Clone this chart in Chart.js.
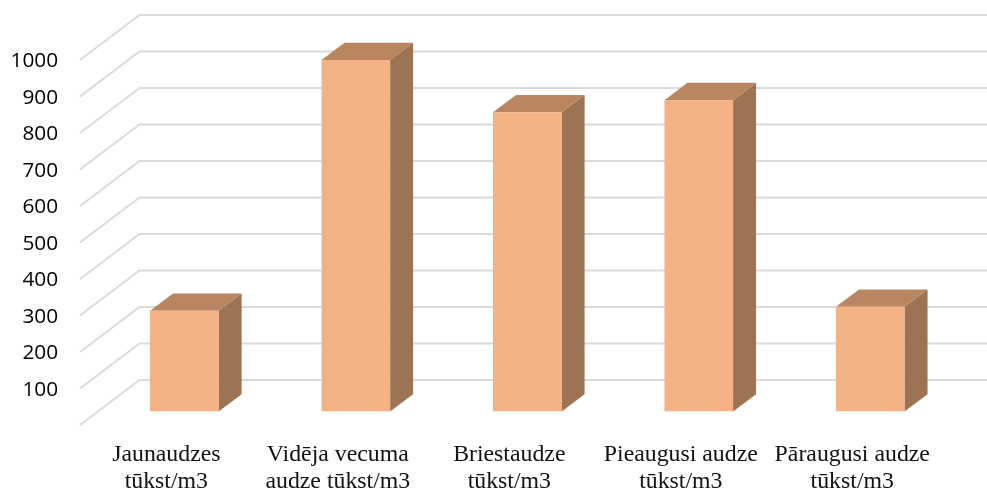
<!DOCTYPE html>
<html>
<head>
<meta charset="utf-8">
<style>html,body{margin:0;padding:0;background:#fff}canvas{display:block}</style>
<script src="https://cdn.jsdelivr.net/npm/chart.js@4"></script>
</head>
<body>
<canvas id="c" width="987" height="491"></canvas>
<script>
const categories = [
  ["Jaunaudzes", "tūkst/m3"],
  ["Vidēja vecuma", "audze tūkst/m3"],
  ["Briestaudze", "tūkst/m3"],
  ["Pieaugusi audze", "tūkst/m3"],
  ["Pāraugusi audze", "tūkst/m3"]
];
const values = [276, 963, 820, 853, 287];
const tickStep = 100;
const tickMax = 1000;

const frontColor = "#F4B183";
const sideColor = "#9C7353";
const topColor = "#BA8561";
const gridColor = "#DADADA";

const depthPlugin = {
  id: "depth3d",
  beforeDatasetsDraw(chart) {
    const ctx = chart.ctx, y = chart.scales.y;
    const backDy = -31.5, frontDy = 13.5, backX = 139.5, frontX = 80;
    ctx.save();
    ctx.strokeStyle = gridColor;
    ctx.lineWidth = 2;
    y.ticks.forEach(t => {
      const p = y.getPixelForValue(t.value);
      ctx.beginPath();
      ctx.moveTo(frontX, p + frontDy);
      ctx.lineTo(backX, p + backDy);
      ctx.lineTo(chart.width, p + backDy);
      ctx.stroke();
    });
    const dx = 23, dy = -17.3;
    chart.getDatasetMeta(0).data.forEach(b => {
      const l = b.x - b.width / 2, r = b.x + b.width / 2, t = b.y, base = b.base;
      ctx.fillStyle = sideColor;
      ctx.beginPath();
      ctx.moveTo(r, t); ctx.lineTo(r + dx, t + dy); ctx.lineTo(r + dx, base + dy); ctx.lineTo(r, base);
      ctx.closePath(); ctx.fill();
      ctx.fillStyle = topColor;
      ctx.beginPath();
      ctx.moveTo(l, t); ctx.lineTo(l + dx, t + dy); ctx.lineTo(r + dx, t + dy); ctx.lineTo(r, t);
      ctx.closePath(); ctx.fill();
    });
    ctx.restore();
  }
};

new Chart(document.getElementById("c"), {
  type: "bar",
  data: {
    labels: categories,
    datasets: [{ data: values, backgroundColor: frontColor, borderWidth: 0, barPercentage: 1, categoryPercentage: 0.4 }]
  },
  plugins: [depthPlugin],
  options: {
    responsive: false,
    animation: false,
    layout: { padding: { left: 0, right: 31, top: 46.5, bottom: 0 } },
    plugins: { legend: { display: false }, tooltip: { enabled: false } },
    scales: {
      x: {
        grid: { display: false, drawTicks: false },
        border: { display: false },
        afterFit(s) { s.height = 79.5; },
        ticks: {
          autoSkip: false, maxRotation: 0, minRotation: 0,
          labelOffset: -18, padding: 30, color: "#111",
          font: { family: "'Liberation Serif'", size: 23.8, lineHeight: 1.134 }
        }
      },
      y: {
        min: 0, max: tickMax,
        grid: { display: false, drawTicks: true, tickLength: 40 },
        border: { display: false },
        afterFit(s) { s.width = 98.6; },
        ticks: {
          stepSize: tickStep, padding: 0.5, labelOffset: 15, color: "#000",
          font: { family: "'Open Sans'", size: 20.8 },
          callback: v => (v === 0 ? "" : v)
        }
      }
    }
  }
});
</script>
</body>
</html>
